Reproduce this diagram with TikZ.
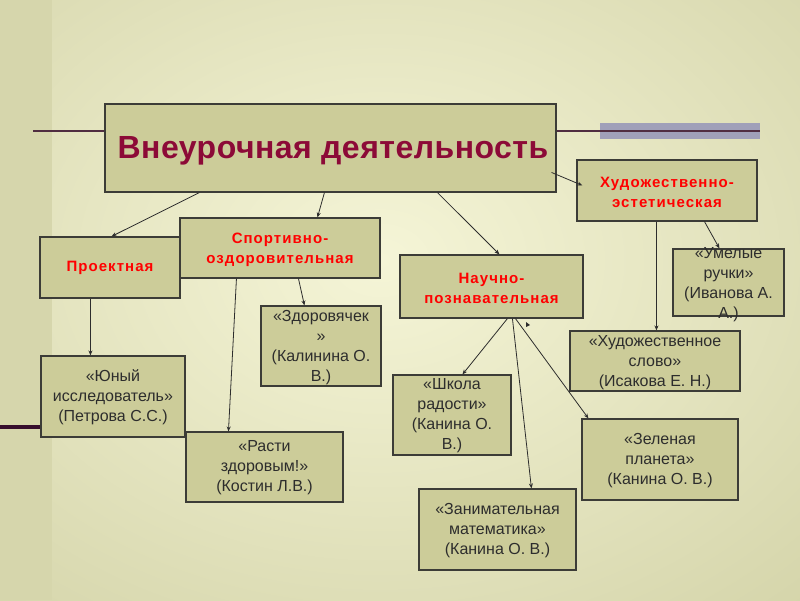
\documentclass[tikz,border=0pt]{standalone}
\usepackage{fontspec}
\setmainfont{Liberation Sans}
\newfontfamily\redfont{Liberation Sans}[LetterSpace=7]
\newfontfamily\titlefont{Liberation Sans}[LetterSpace=1.5]
\usetikzlibrary{arrows.meta}
\definecolor{boxfill}{RGB}{204,204,153}
\definecolor{boxline}{RGB}{60,60,55}
\definecolor{txt}{RGB}{45,45,45}
\definecolor{titlered}{RGB}{140,10,55}
\definecolor{brightred}{RGB}{255,0,0}
\definecolor{bgin}{RGB}{245,245,215}
\definecolor{bgout}{RGB}{204,204,158}
\definecolor{strip}{RGB}{214,214,172}
\definecolor{decoline}{RGB}{80,45,65}
\definecolor{decodark}{RGB}{55,15,45}
\definecolor{bar}{RGB}{160,160,185}
\definecolor{arrline}{RGB}{45,45,45}
\begin{document}
\begin{tikzpicture}[x=1pt,y=-1pt,
  box/.style={draw=boxline, fill=boxfill, line width=1.1pt, inner sep=0pt, rectangle},
  bodytext/.style={align=center, font=\fontsize{16}{20}\selectfont, text=txt, inner sep=0pt},
  redtext/.style={align=center, font=\redfont\bfseries\fontsize{15}{20}\selectfont, text=brightred, inner sep=0pt},
  titletext/.style={font=\titlefont\bfseries\fontsize{32}{36}\selectfont, text=titlered, inner sep=0pt},
  arr/.style={draw=arrline, line width=0.8pt, -{Stealth[length=5pt,width=4pt]}}
]
\useasboundingbox (0,0) rectangle (800,600);
% background
\begin{scope}
  \clip (0,0) rectangle (800,600);
  \shade[inner color=bgin, outer color=bgout] (-420,-340) rectangle (1180,860);
  \fill[strip] (0,0) rectangle (52,600);
\end{scope}
% decorative lines
\fill[bar] (600,123) rectangle (760,139);
\coordinate (decoL) at (33,131);
\coordinate (decoR) at (760,131);
\coordinate (decoB) at (0,427);

% boxes
\node[box, minimum width=451pt, minimum height=88pt] (title) at (330.5,148) {};
\node[titletext] (titleT) at (333,151) {Внеурочная деятельность};
\node[box, minimum width=180pt, minimum height=61pt] (hud) at (667,190.5) {};
\node[redtext] (hudT) at (667,192) {Художественно-\\эстетическая};
\node[box, minimum width=140pt, minimum height=61pt] (proj) at (110,267.5) {};
\node[redtext] (projT) at (110,268) {Проектная};
\node[box, minimum width=200pt, minimum height=60pt] (sport) at (280,248) {};
\node[redtext] (sportT) at (280,249.5) {Спортивно-\\оздоровительная};
\node[box, minimum width=183pt, minimum height=63pt] (nauch) at (491.5,286.5) {};
\node[redtext] (nauchT) at (491.5,288) {Научно-\\познавательная};
\node[box, minimum width=111pt, minimum height=67pt] (umel) at (728.5,282.5) {};
\node[bodytext] (umelT) at (728.5,284.5) {«Умелые\\ручки»\\(Иванова А.\\А.)};
\node[box, minimum width=170pt, minimum height=60pt] (hslovo) at (655,361) {};
\node[bodytext] (hslovoT) at (655,363) {«Художественное\\слово»\\(Исакова Е. Н.)};
\node[box, minimum width=120pt, minimum height=80pt] (zdor) at (321,346) {};
\node[bodytext] (zdorT) at (321,347.5) {«Здоровячек\\»\\(Калинина О.\\В.)};
\node[box, minimum width=144pt, minimum height=81pt] (yuny) at (113,396.5) {};
\node[bodytext] (yunyT) at (113,397) {«Юный\\исследователь»\\(Петрова С.С.)};
\node[box, minimum width=157pt, minimum height=70pt] (rasti) at (264.5,467) {};
\node[bodytext] (rastiT) at (264.5,468) {«Расти\\здоровым!»\\(Костин Л.В.)};
\node[box, minimum width=118pt, minimum height=80pt] (shkola) at (452,415) {};
\node[bodytext] (shkolaT) at (452,416) {«Школа\\радости»\\(Канина О.\\В.)};
\node[box, minimum width=157pt, minimum height=81pt] (zanim) at (497.5,529.5) {};
\node[bodytext] (zanimT) at (497.5,531) {«Занимательная\\математика»\\(Канина О. В.)};
\node[box, minimum width=156pt, minimum height=81pt] (zelen) at (660,459.5) {};
\node[bodytext] (zelenT) at (660,461) {«Зеленая\\планета»\\(Канина О. В.)};

% decorative lines drawn to boxes
\draw[decoline, line width=2pt] (decoL) -- (title.west |- decoL);
\draw[decoline, line width=2pt] (title.east |- decoR) -- (decoR);
\draw[decodark, line width=3.5pt] (decoB) -- (yuny.west |- decoB);

% connectors
\draw[arr] ([xshift=95pt]title.south west) -- ([xshift=72pt]proj.north west);
\draw[arr] ([xshift=220pt]title.south west) -- ([xshift=138pt]sport.north west);
\draw[arr] ([xshift=333pt]title.south west) -- ([xshift=100pt]nauch.north west);
\draw[arr] ([xshift=-5pt,yshift=-69pt]title.north east) -- ([xshift=6pt,yshift=-26pt]hud.north west);
\draw[arr] ([xshift=80pt]hud.south west) -- ([xshift=87pt]hslovo.north west);
\draw[arr] ([xshift=128pt]hud.south west) -- ([xshift=47pt]umel.north west);
\draw[arr] ([xshift=51pt]proj.south west) -- ([xshift=50pt]yuny.north west);
\draw[arr] ([xshift=57pt]sport.south west) -- ([xshift=43pt]rasti.north west);
\draw[arr] ([xshift=119pt]sport.south west) -- ([xshift=44pt]zdor.north west);
\draw[arr] ([xshift=108pt]nauch.south west) -- ([xshift=70pt]shkola.north west);
\draw[arr] ([xshift=113pt]nauch.south west) -- ([xshift=113pt]zanim.north west);
\draw[arr] ([xshift=116pt]nauch.south west) -- ([xshift=7pt]zelen.north west);
% stray arrow tip
\fill[arrline] (526,322) -- (530,325) -- (526,327) -- cycle;
\end{tikzpicture}
\end{document}
